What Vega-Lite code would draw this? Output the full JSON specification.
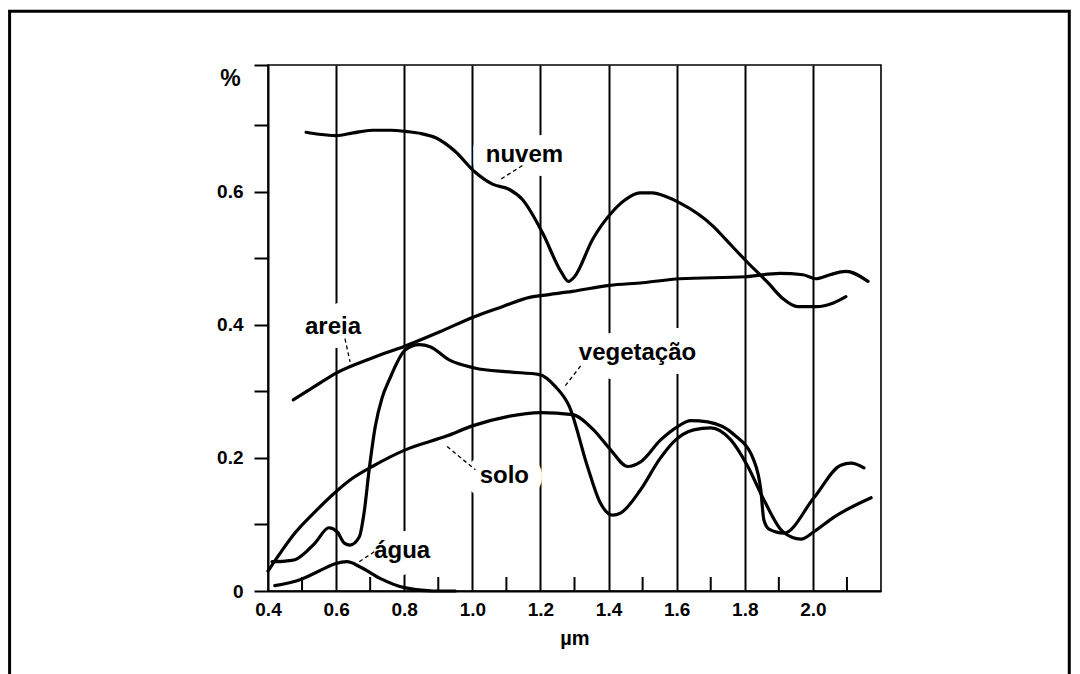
{
  "$schema": "https://vega.github.io/schema/vega-lite/v6.json",
  "width": 613,
  "height": 526,
  "autosize": "none",
  "padding": {"left": 268, "top": 65, "right": 199, "bottom": 83},
  "background": "white",
  "config": {
    "view": {"stroke": "black", "strokeWidth": 1.6},
    "font": "Liberation Sans"
  },
  "datasets": {
    "curves": [
      {"serie": "nuvem", "wl": 0.512, "refl": 0.689},
      {"serie": "nuvem", "wl": 0.55, "refl": 0.686},
      {"serie": "nuvem", "wl": 0.6, "refl": 0.684},
      {"serie": "nuvem", "wl": 0.65, "refl": 0.688},
      {"serie": "nuvem", "wl": 0.706, "refl": 0.692},
      {"serie": "nuvem", "wl": 0.76, "refl": 0.692},
      {"serie": "nuvem", "wl": 0.809, "refl": 0.69},
      {"serie": "nuvem", "wl": 0.85, "refl": 0.687},
      {"serie": "nuvem", "wl": 0.891, "refl": 0.681},
      {"serie": "nuvem", "wl": 0.95, "refl": 0.66},
      {"serie": "nuvem", "wl": 1.006, "refl": 0.63},
      {"serie": "nuvem", "wl": 1.059, "refl": 0.611},
      {"serie": "nuvem", "wl": 1.109, "refl": 0.603},
      {"serie": "nuvem", "wl": 1.147, "refl": 0.588},
      {"serie": "nuvem", "wl": 1.206, "refl": 0.538},
      {"serie": "nuvem", "wl": 1.26, "refl": 0.48},
      {"serie": "nuvem", "wl": 1.282, "refl": 0.465},
      {"serie": "nuvem", "wl": 1.3, "refl": 0.472},
      {"serie": "nuvem", "wl": 1.353, "refl": 0.528},
      {"serie": "nuvem", "wl": 1.412, "refl": 0.57},
      {"serie": "nuvem", "wl": 1.45, "refl": 0.588},
      {"serie": "nuvem", "wl": 1.491, "refl": 0.598},
      {"serie": "nuvem", "wl": 1.529, "refl": 0.598},
      {"serie": "nuvem", "wl": 1.57, "refl": 0.592},
      {"serie": "nuvem", "wl": 1.609, "refl": 0.583},
      {"serie": "nuvem", "wl": 1.709, "refl": 0.547},
      {"serie": "nuvem", "wl": 1.744, "refl": 0.528},
      {"serie": "nuvem", "wl": 1.809, "refl": 0.493},
      {"serie": "nuvem", "wl": 1.868, "refl": 0.463},
      {"serie": "nuvem", "wl": 1.91, "refl": 0.44},
      {"serie": "nuvem", "wl": 1.956, "refl": 0.427},
      {"serie": "nuvem", "wl": 2.009, "refl": 0.427},
      {"serie": "nuvem", "wl": 2.062, "refl": 0.433},
      {"serie": "nuvem", "wl": 2.097, "refl": 0.442},
      {"serie": "areia", "wl": 0.474, "refl": 0.287},
      {"serie": "areia", "wl": 0.53, "refl": 0.305},
      {"serie": "areia", "wl": 0.603, "refl": 0.328},
      {"serie": "areia", "wl": 0.706, "refl": 0.35},
      {"serie": "areia", "wl": 0.803, "refl": 0.368},
      {"serie": "areia", "wl": 0.903, "refl": 0.389},
      {"serie": "areia", "wl": 1.006, "refl": 0.412},
      {"serie": "areia", "wl": 1.088, "refl": 0.427},
      {"serie": "areia", "wl": 1.168, "refl": 0.441},
      {"serie": "areia", "wl": 1.206, "refl": 0.444},
      {"serie": "areia", "wl": 1.294, "refl": 0.45},
      {"serie": "areia", "wl": 1.403, "refl": 0.459},
      {"serie": "areia", "wl": 1.5, "refl": 0.463},
      {"serie": "areia", "wl": 1.609, "refl": 0.469},
      {"serie": "areia", "wl": 1.803, "refl": 0.472},
      {"serie": "areia", "wl": 1.903, "refl": 0.477},
      {"serie": "areia", "wl": 1.971, "refl": 0.475},
      {"serie": "areia", "wl": 2.009, "refl": 0.469},
      {"serie": "areia", "wl": 2.05, "refl": 0.475},
      {"serie": "areia", "wl": 2.097, "refl": 0.48},
      {"serie": "areia", "wl": 2.162, "refl": 0.465},
      {"serie": "vegetação", "wl": 0.412, "refl": 0.044},
      {"serie": "vegetação", "wl": 0.45, "refl": 0.045},
      {"serie": "vegetação", "wl": 0.479, "refl": 0.047},
      {"serie": "vegetação", "wl": 0.538, "refl": 0.072},
      {"serie": "vegetação", "wl": 0.579, "refl": 0.095},
      {"serie": "vegetação", "wl": 0.603, "refl": 0.089},
      {"serie": "vegetação", "wl": 0.624, "refl": 0.072},
      {"serie": "vegetação", "wl": 0.641, "refl": 0.069},
      {"serie": "vegetação", "wl": 0.668, "refl": 0.081},
      {"serie": "vegetação", "wl": 0.682, "refl": 0.117},
      {"serie": "vegetação", "wl": 0.697, "refl": 0.182},
      {"serie": "vegetação", "wl": 0.715, "refl": 0.247},
      {"serie": "vegetação", "wl": 0.735, "refl": 0.29},
      {"serie": "vegetação", "wl": 0.756, "refl": 0.317},
      {"serie": "vegetação", "wl": 0.803, "refl": 0.362},
      {"serie": "vegetação", "wl": 0.844, "refl": 0.37},
      {"serie": "vegetação", "wl": 0.876, "refl": 0.367},
      {"serie": "vegetação", "wl": 0.932, "refl": 0.347},
      {"serie": "vegetação", "wl": 1.006, "refl": 0.335},
      {"serie": "vegetação", "wl": 1.109, "refl": 0.329},
      {"serie": "vegetação", "wl": 1.197, "refl": 0.325},
      {"serie": "vegetação", "wl": 1.244, "refl": 0.307},
      {"serie": "vegetação", "wl": 1.285, "refl": 0.277},
      {"serie": "vegetação", "wl": 1.338, "refl": 0.187},
      {"serie": "vegetação", "wl": 1.376, "refl": 0.132},
      {"serie": "vegetação", "wl": 1.412, "refl": 0.114},
      {"serie": "vegetação", "wl": 1.435, "refl": 0.117},
      {"serie": "vegetação", "wl": 1.494, "refl": 0.152},
      {"serie": "vegetação", "wl": 1.55, "refl": 0.198},
      {"serie": "vegetação", "wl": 1.591, "refl": 0.224},
      {"serie": "vegetação", "wl": 1.65, "refl": 0.242},
      {"serie": "vegetação", "wl": 1.7, "refl": 0.245},
      {"serie": "vegetação", "wl": 1.759, "refl": 0.227},
      {"serie": "vegetação", "wl": 1.809, "refl": 0.187},
      {"serie": "vegetação", "wl": 1.856, "refl": 0.137},
      {"serie": "vegetação", "wl": 1.912, "refl": 0.089},
      {"serie": "vegetação", "wl": 1.965, "refl": 0.078},
      {"serie": "vegetação", "wl": 2.003, "refl": 0.089},
      {"serie": "vegetação", "wl": 2.062, "refl": 0.111},
      {"serie": "vegetação", "wl": 2.171, "refl": 0.14},
      {"serie": "solo", "wl": 0.4, "refl": 0.03},
      {"serie": "solo", "wl": 0.44, "refl": 0.06},
      {"serie": "solo", "wl": 0.479, "refl": 0.087},
      {"serie": "solo", "wl": 0.54, "refl": 0.12},
      {"serie": "solo", "wl": 0.597, "refl": 0.148},
      {"serie": "solo", "wl": 0.65, "refl": 0.17},
      {"serie": "solo", "wl": 0.706, "refl": 0.187},
      {"serie": "solo", "wl": 0.803, "refl": 0.212},
      {"serie": "solo", "wl": 0.926, "refl": 0.233},
      {"serie": "solo", "wl": 1.0, "refl": 0.248},
      {"serie": "solo", "wl": 1.103, "refl": 0.262},
      {"serie": "solo", "wl": 1.2, "refl": 0.268},
      {"serie": "solo", "wl": 1.294, "refl": 0.265},
      {"serie": "solo", "wl": 1.356, "refl": 0.242},
      {"serie": "solo", "wl": 1.406, "refl": 0.212},
      {"serie": "solo", "wl": 1.456, "refl": 0.187},
      {"serie": "solo", "wl": 1.494, "refl": 0.194},
      {"serie": "solo", "wl": 1.553, "refl": 0.227},
      {"serie": "solo", "wl": 1.603, "refl": 0.247},
      {"serie": "solo", "wl": 1.641, "refl": 0.256},
      {"serie": "solo", "wl": 1.691, "refl": 0.254},
      {"serie": "solo", "wl": 1.768, "refl": 0.235},
      {"serie": "solo", "wl": 1.826, "refl": 0.197},
      {"serie": "solo", "wl": 1.847, "refl": 0.152},
      {"serie": "solo", "wl": 1.856, "refl": 0.107},
      {"serie": "solo", "wl": 1.871, "refl": 0.093},
      {"serie": "solo", "wl": 1.915, "refl": 0.087},
      {"serie": "solo", "wl": 2.003, "refl": 0.14},
      {"serie": "solo", "wl": 2.082, "refl": 0.189},
      {"serie": "solo", "wl": 2.112, "refl": 0.192},
      {"serie": "solo", "wl": 2.15, "refl": 0.185},
      {"serie": "água", "wl": 0.42, "refl": 0.008},
      {"serie": "água", "wl": 0.494, "refl": 0.017},
      {"serie": "água", "wl": 0.55, "refl": 0.03},
      {"serie": "água", "wl": 0.597, "refl": 0.041},
      {"serie": "água", "wl": 0.632, "refl": 0.044},
      {"serie": "água", "wl": 0.671, "refl": 0.036},
      {"serie": "água", "wl": 0.729, "refl": 0.019},
      {"serie": "água", "wl": 0.8, "refl": 0.005},
      {"serie": "água", "wl": 0.885, "refl": 0.0},
      {"serie": "água", "wl": 0.95, "refl": 0.0}
    ],
    "labels": [
      {"label": "nuvem", "wl": 1.153, "refl": 0.645},
      {"label": "areia", "wl": 0.591, "refl": 0.386},
      {"label": "vegetação", "wl": 1.485, "refl": 0.347},
      {"label": "solo", "wl": 1.094, "refl": 0.162},
      {"label": "água", "wl": 0.794, "refl": 0.05}
    ],
    "leaders": [
      {"label": "nuvem", "wl": 1.147, "refl": 0.639, "wl2": 1.082, "refl2": 0.618},
      {"label": "areia", "wl": 0.626, "refl": 0.379, "wl2": 0.641, "refl2": 0.344},
      {"label": "vegetação", "wl": 1.318, "refl": 0.338, "wl2": 1.268, "refl2": 0.305},
      {"label": "solo", "wl": 0.926, "refl": 0.217, "wl2": 1.009, "refl2": 0.182},
      {"label": "água", "wl": 0.668, "refl": 0.044, "wl2": 0.712, "refl2": 0.059}
    ],
    "minorTicks": [
      {"wl": 0.5}, {"wl": 0.7}, {"wl": 0.9}, {"wl": 1.1}, {"wl": 1.3},
      {"wl": 1.5}, {"wl": 1.7}, {"wl": 1.9}, {"wl": 2.1}
    ],
    "frame": [{"part": "frame"}]
  },
  "layer": [
    {
      "data": {"name": "frame"},
      "mark": {"type": "rect", "fill": null, "stroke": "black", "strokeWidth": 3},
      "encoding": {
        "x": {"datum": -0.3588, "type": "quantitative", "scale": {"domain": [0.4, 2.2], "nice": false, "zero": false}},
        "x2": {"datum": 2.7529},
        "y": {"datum": 0.8707, "type": "quantitative", "scale": {"domain": [0, 0.79], "nice": false, "zero": false}},
        "y2": {"datum": -0.15}
      }
    },
    {
      "data": {"name": "minorTicks"},
      "mark": {"type": "rule", "color": "black", "strokeWidth": 2},
      "encoding": {
        "x": {"field": "wl", "type": "quantitative"},
        "y": {"datum": 0, "type": "quantitative"},
        "y2": {"datum": 0.021}
      }
    },
    {
      "data": {"name": "labels"},
      "mark": {"type": "text", "font": "Liberation Sans", "fontWeight": "bold", "fontSize": 24, "align": "center", "baseline": "alphabetic", "fill": "white", "stroke": "white", "strokeWidth": 28, "strokeJoin": "round"},
      "encoding": {
        "x": {"field": "wl", "type": "quantitative"},
        "y": {"field": "refl", "type": "quantitative"},
        "text": {"field": "label"}
      }
    },
    {
      "data": {"name": "curves"},
      "mark": {"type": "line", "color": "black", "strokeWidth": 3.2, "interpolate": "monotone", "strokeCap": "round", "strokeJoin": "round"},
      "encoding": {
        "x": {
          "field": "wl", "type": "quantitative",
          "axis": {
            "values": [0.4, 0.6, 0.8, 1.0, 1.2, 1.4, 1.6, 1.8, 2.0, 2.2],
            "title": "µm",
            "titleFont": "Liberation Sans", "titleFontWeight": "bold", "titleFontSize": 20, "titleColor": "black",
            "titlePadding": 9,
            "grid": true, "gridColor": "black", "gridWidth": 2,
            "gridOpacity": {"condition": {"test": "datum.value > 0.45 && datum.value < 2.15", "value": 1}, "value": 0},
            "ticks": false,
            "domain": true, "domainColor": "black", "domainWidth": 2,
            "labelExpr": "datum.value < 2.1 ? format(datum.value, '.1f') : ''",
            "labelFont": "Liberation Sans", "labelFontWeight": "bold", "labelFontSize": 19, "labelColor": "black",
            "labelPadding": 9, "labelFlush": false, "labelOverlap": false, "labelBound": false
          }
        },
        "y": {
          "field": "refl", "type": "quantitative",
          "axis": {
            "values": [0, 0.1, 0.2, 0.3, 0.4, 0.5, 0.6, 0.7, 0.79],
            "title": "%", "titleAngle": 0, "titleX": -38, "titleY": 13,
            "titleAlign": "center", "titleBaseline": "middle",
            "titleFont": "Liberation Sans", "titleFontWeight": "bold", "titleFontSize": 23, "titleColor": "black",
            "grid": false,
            "ticks": true, "tickSize": 14, "tickWidth": 2, "tickColor": "black",
            "domain": true, "domainColor": "black", "domainWidth": 2,
            "labelExpr": "datum.value < 0.75 && round(datum.value * 10) % 2 == 0 ? (datum.value == 0 ? '0' : format(datum.value, '.1f')) : ''",
            "labelFont": "Liberation Sans", "labelFontWeight": "bold", "labelFontSize": 19, "labelColor": "black",
            "labelPadding": 11, "labelFlush": false, "labelOverlap": false, "labelBound": false
          }
        },
        "detail": {"field": "serie"}
      }
    },
    {
      "data": {"name": "labels"},
      "mark": {"type": "text", "font": "Liberation Sans", "fontWeight": "bold", "fontSize": 24, "align": "center", "baseline": "alphabetic", "color": "black"},
      "encoding": {
        "x": {"field": "wl", "type": "quantitative"},
        "y": {"field": "refl", "type": "quantitative"},
        "text": {"field": "label"}
      }
    },
    {
      "data": {"name": "leaders"},
      "mark": {"type": "rule", "color": "black", "strokeWidth": 1.3, "strokeDash": [4, 3]},
      "encoding": {
        "x": {"field": "wl", "type": "quantitative"},
        "y": {"field": "refl", "type": "quantitative"},
        "x2": {"field": "wl2"},
        "y2": {"field": "refl2"}
      }
    }
  ]
}
